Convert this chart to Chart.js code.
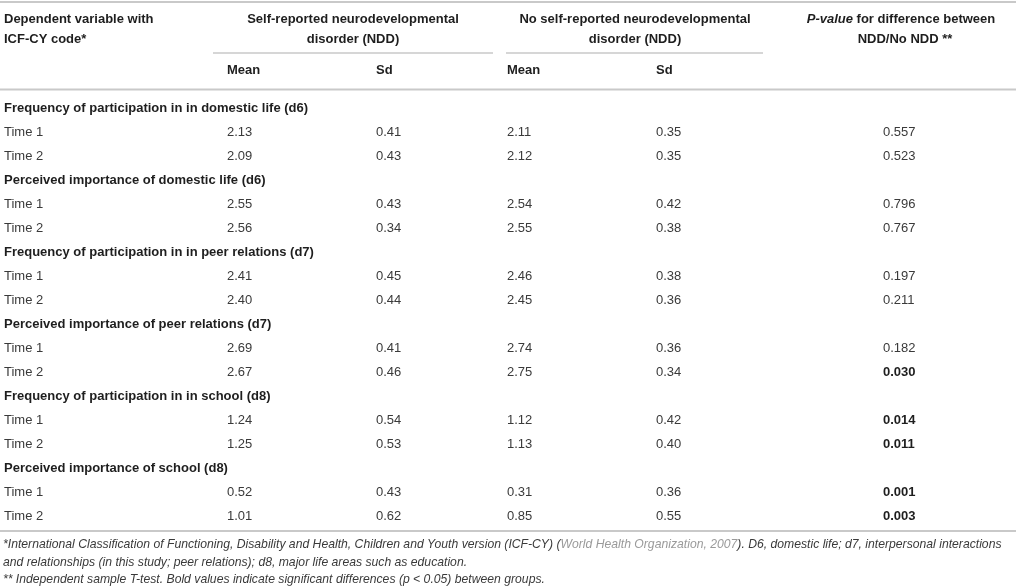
<!DOCTYPE html>
<html><head><meta charset="utf-8">
<script src="https://cdn.jsdelivr.net/npm/chart.js@4.4.1/dist/chart.umd.min.js"></script>
<style>html,body{margin:0;padding:0;background:#fff}#wrap{width:1016px;height:588px;position:relative}</style>
</head><body><div id="wrap"><canvas id="c"></canvas></div>
<script>
// ---- data ----
const sectionTitles = [
  "Frequency of participation in in domestic life (d6)",
  "Perceived importance of domestic life (d6)",
  "Frequency of participation in in peer relations (d7)",
  "Perceived importance of peer relations (d7)",
  "Frequency of participation in in school (d8)",
  "Perceived importance of school (d8)"
];
const timeLabels = ["Time 1", "Time 2"];
const nddMean   = [2.13, 2.09, 2.55, 2.56, 2.41, 2.40, 2.69, 2.67, 1.24, 1.25, 0.52, 1.01];
const nddSd     = [0.41, 0.43, 0.43, 0.34, 0.45, 0.44, 0.41, 0.46, 0.54, 0.53, 0.43, 0.62];
const noNddMean = [2.11, 2.12, 2.54, 2.55, 2.46, 2.45, 2.74, 2.75, 1.12, 1.13, 0.31, 0.85];
const noNddSd   = [0.35, 0.35, 0.42, 0.38, 0.38, 0.36, 0.36, 0.34, 0.42, 0.40, 0.36, 0.55];
const pValues   = [0.557, 0.523, 0.796, 0.767, 0.197, 0.211, 0.182, 0.030, 0.014, 0.011, 0.001, 0.003];
const headerFirstCol = ["Dependent variable with", "ICF-CY code*"];
const headerNdd = ["Self-reported neurodevelopmental", "disorder (NDD)"];
const headerNoNdd = ["No self-reported neurodevelopmental", "disorder (NDD)"];
const headerP = [["P-value", " for difference between"], "NDD/No NDD **"];
const subHeaders = ["Mean", "Sd", "Mean", "Sd"];
const footnote1 = ["*International Classification of Functioning, Disability and Health, Children and Youth version (ICF-CY) (", "World Health Organization, 2007", "). D6, domestic life; d7, interpersonal interactions"];
const footnote2 = "and relationships (in this study; peer relations); d8, major life areas such as education.";
const footnote3 = "** Independent sample T-test. Bold values indicate significant differences (p < 0.05) between groups.";
const alpha = 0.05;

// ---- layout (not data) ----
const W = 1016, H = 588;
const COL = {label: 4, nddMean: 227, nddSd: 376, noMean: 507, noSd: 656, p: 883};
const BODY_TOP = 108, ROW_H = 24;
const FONT = '"Liberation Sans", Arial, Helvetica, sans-serif';
const C_BODY = '#3a3a3a', C_BOLD = '#1e1e1e', C_LINE = '#c9c9c9', C_LINK = '#9a9a9a';

const rowY = i => BODY_TOP + ROW_H * i;

// build cells
const labelPts = [], labelTxt = [], labelBold = [];
const valRows = [];
sectionTitles.forEach((t, s) => {
  labelPts.push({x: COL.label, y: rowY(s * 3)}); labelTxt.push(t); labelBold.push(true);
  timeLabels.forEach((tl, k) => {
    const r = s * 3 + 1 + k;
    labelPts.push({x: COL.label, y: rowY(r)}); labelTxt.push(tl); labelBold.push(false);
    valRows.push(r);
  });
});
function colDataset(name, arr, x, digits, boldFn) {
  return {
    label: name,
    data: arr.map((v, i) => ({x: x, y: rowY(valRows[i])})),
    cellText: arr.map(v => v.toFixed(digits)),
    cellBold: arr.map((v, i) => boldFn ? boldFn(v, i) : false),
    pointRadius: 0, pointHoverRadius: 0, showLine: false
  };
}
const datasets = [
  {label: 'labels', data: labelPts, cellText: labelTxt, cellBold: labelBold, pointRadius: 0, pointHoverRadius: 0},
  colDataset('nddMean', nddMean, COL.nddMean, 2),
  colDataset('nddSd', nddSd, COL.nddSd, 2),
  colDataset('noNddMean', noNddMean, COL.noMean, 2),
  colDataset('noNddSd', noNddSd, COL.noSd, 2),
  colDataset('p', pValues, COL.p, 3, v => v < alpha)
];

const tablePlugin = {
  id: 'tablePlugin',
  afterDatasetsDraw(chart) {
    const ctx = chart.ctx, xs = chart.scales.x, ys = chart.scales.y;
    const X = v => xs.getPixelForValue(v), Y = v => ys.getPixelForValue(v);
    ctx.save();
    ctx.textBaseline = 'middle';
    // lines
    function hline(x1, x2, y, w) {
      ctx.strokeStyle = C_LINE; ctx.lineWidth = w;
      ctx.beginPath(); ctx.moveTo(X(x1), Y(y)); ctx.lineTo(X(x2), Y(y)); ctx.stroke();
    }
    hline(0, W, 2, 2);
    hline(213, 493, 53, 1.5);
    hline(506, 763, 53, 1.5);
    hline(0, W, 89.5, 2);
    hline(0, W, 531, 2);
    // headers
    ctx.font = 'bold 13px ' + FONT; ctx.fillStyle = C_BOLD; ctx.textAlign = 'left';
    ctx.fillText(headerFirstCol[0], X(4), Y(19));
    ctx.fillText(headerFirstCol[1], X(4), Y(39));
    ctx.textAlign = 'center';
    ctx.fillText(headerNdd[0], X(353), Y(19));
    ctx.fillText(headerNdd[1], X(353), Y(39));
    ctx.fillText(headerNoNdd[0], X(635), Y(19));
    ctx.fillText(headerNoNdd[1], X(635), Y(39));
    // P-value header line 1 (mixed italic)
    ctx.textAlign = 'left';
    ctx.font = 'italic bold 13px ' + FONT;
    const w1 = ctx.measureText(headerP[0][0]).width;
    ctx.font = 'bold 13px ' + FONT;
    const w2 = ctx.measureText(headerP[0][1]).width;
    const cx = 901;
    let sx = X(cx) - (w1 + w2) / 2;
    ctx.font = 'italic bold 13px ' + FONT; ctx.fillText(headerP[0][0], sx, Y(19));
    ctx.font = 'bold 13px ' + FONT; ctx.fillText(headerP[0][1], sx + w1, Y(19));
    ctx.textAlign = 'center';
    ctx.fillText(headerP[1], X(905), Y(39));
    ctx.textAlign = 'left';
    const subX = [COL.nddMean, COL.nddSd, COL.noMean, COL.noSd];
    subHeaders.forEach((t, i) => ctx.fillText(t, X(subX[i]), Y(70)));
    // cells from dataset elements
    chart.data.datasets.forEach((ds, di) => {
      const meta = chart.getDatasetMeta(di);
      meta.data.forEach((el, j) => {
        const b = ds.cellBold[j];
        ctx.font = (b ? 'bold ' : '') + '13px ' + FONT;
        ctx.fillStyle = b ? C_BOLD : C_BODY;
        ctx.textAlign = 'left';
        ctx.fillText(ds.cellText[j], el.x, el.y);
      });
    });
    // footnotes
    ctx.font = 'italic 12.2px ' + FONT;
    let fx = X(3);
    footnote1.forEach((seg, i) => {
      ctx.fillStyle = i === 1 ? C_LINK : C_BODY;
      ctx.fillText(seg, fx, Y(545));
      fx += ctx.measureText(seg).width;
    });
    ctx.fillStyle = C_BODY;
    ctx.fillText(footnote2, X(3), Y(563));
    ctx.fillText(footnote3, X(3), Y(580));
    ctx.restore();
  }
};

new Chart(document.getElementById('c'), {
  type: 'scatter',
  data: {datasets},
  options: {
    responsive: true, maintainAspectRatio: false, animation: false,
    layout: {padding: 0},
    events: [],
    scales: {
      x: {type: 'linear', min: 0, max: W, display: false},
      y: {type: 'linear', min: 0, max: H, reverse: true, display: false}
    },
    plugins: {legend: {display: false}, tooltip: {enabled: false}, title: {display: false}}
  },
  plugins: [tablePlugin]
});
</script>
</body></html>
